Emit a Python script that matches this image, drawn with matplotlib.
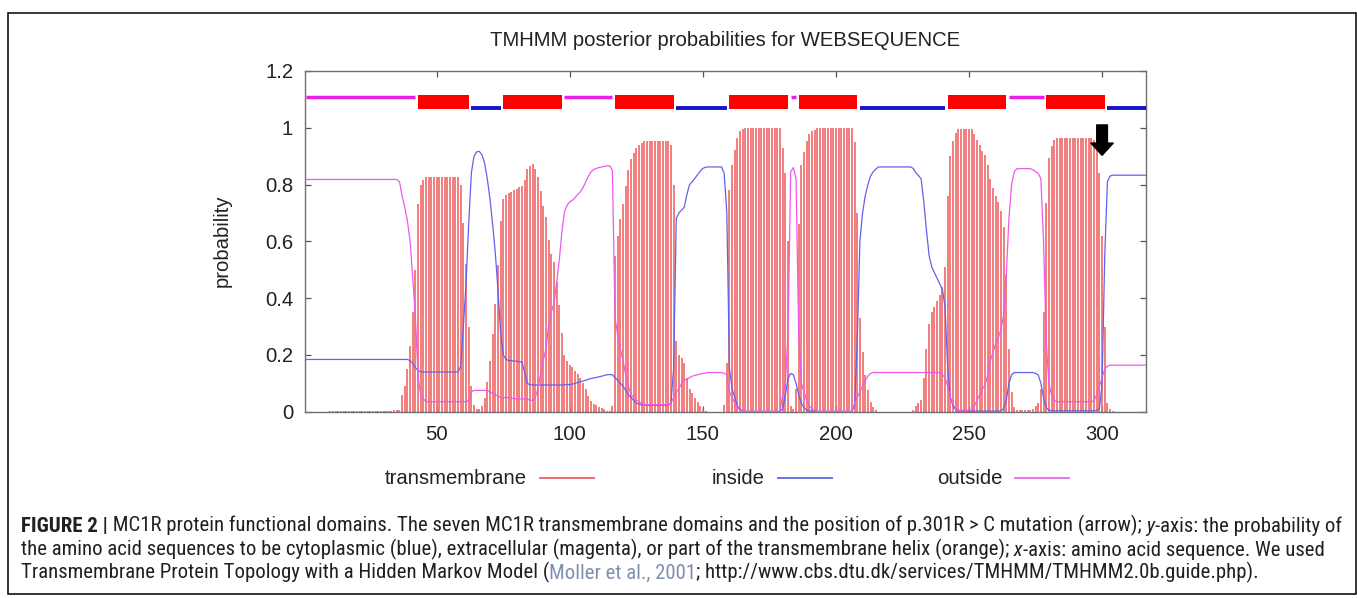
import matplotlib
matplotlib.use('Agg')
import matplotlib.pyplot as plt
from matplotlib import font_manager
from matplotlib.font_manager import FontProperties
from matplotlib.patches import Rectangle, FancyArrowPatch
from matplotlib.lines import Line2D

# ---------------- data ----------------
residues = list(range(1, 318))

tm_prob = [
    0, 0, 0, 0, 0, 0, 0, 0, 0, 0.003,                                   # 1-10
    0.003, 0.003, 0.003, 0.003, 0.003, 0.003, 0.003, 0.003, 0.003, 0.003,  # 11-20
    0.003, 0.003, 0.003, 0.003, 0.003, 0.003, 0.003, 0.001, 0.001, 0.001,  # 21-30
    0.001, 0.001, 0.001, 0.005, 0.005, 0.005, 0.06, 0.09, 0.15, 0.23,      # 31-40
    0.35, 0.5, 0.73, 0.8, 0.815, 0.825, 0.827, 0.827, 0.827, 0.827,        # 41-50
    0.827, 0.827, 0.827, 0.827, 0.827, 0.827, 0.827, 0.827, 0.8, 0.665,    # 51-60
    0.52, 0.3, 0.09, 0.025, 0.01, 0.008, 0.02, 0.05, 0.105, 0.18,          # 61-70
    0.275, 0.38, 0.515, 0.67, 0.75, 0.765, 0.77, 0.775, 0.78, 0.785,       # 71-80
    0.79, 0.795, 0.815, 0.855, 0.865, 0.874, 0.856, 0.826, 0.776, 0.726,   # 81-90
    0.686, 0.606, 0.556, 0.526, 0.456, 0.376, 0.276, 0.2, 0.178, 0.164,    # 91-100
    0.158, 0.145, 0.132, 0.12, 0.102, 0.079, 0.056, 0.038, 0.028, 0.022,   # 101-110
    0.017, 0.013, 0.008, 0.004, 0.003, 0.02, 0.55, 0.62, 0.68, 0.73,       # 111-120
    0.795, 0.85, 0.89, 0.91, 0.93, 0.938, 0.948, 0.952, 0.952, 0.952,      # 121-130
    0.952, 0.952, 0.952, 0.952, 0.952, 0.952, 0.952, 0.94, 0.8, 0.25,      # 131-140
    0.2, 0.19, 0.17, 0.12, 0.08, 0.065, 0.05, 0.035, 0.02, 0.008,          # 141-150
    0.003, 0, 0, 0, 0, 0, 0, 0.025, 0.17, 0.78,                            # 151-160
    0.87, 0.92, 0.965, 0.987, 0.995, 0.998, 0.998, 0.998, 0.998, 0.998,    # 161-170
    0.998, 0.998, 0.998, 0.998, 0.998, 0.998, 0.998, 0.998, 0.998, 0.93,   # 171-180
    0.84, 0.6, 0.02, 0.01, 0.08, 0.66, 0.87, 0.915, 0.955, 0.977,          # 181-190
    0.988, 0.993, 0.998, 0.998, 0.998, 0.998, 0.998, 0.998, 0.998, 0.998,  # 191-200
    0.998, 0.998, 0.998, 0.998, 0.998, 0.998, 0.95, 0.7, 0.33, 0.21,       # 201-210
    0.13, 0.075, 0.035, 0.017, 0.007, 0, 0, 0, 0, 0,                       # 211-220
    0, 0, 0, 0, 0, 0, 0, 0, 0.005, 0.02,                                   # 221-230
    0.03, 0.042, 0.12, 0.22, 0.31, 0.35, 0.37, 0.39, 0.41, 0.44,           # 231-240
    0.51, 0.76, 0.9, 0.955, 0.982, 0.995, 0.995, 0.995, 0.995, 0.995,      # 241-250
    0.995, 0.978, 0.958, 0.938, 0.918, 0.905, 0.87, 0.82, 0.788, 0.758,    # 251-260
    0.738, 0.707, 0.65, 0.48, 0.22, 0.07, 0.017, 0.006, 0.006, 0.006,      # 261-270
    0.006, 0.006, 0.006, 0.01, 0.02, 0.03, 0.08, 0.35, 0.735, 0.895,       # 271-280
    0.937, 0.957, 0.965, 0.965, 0.965, 0.965, 0.965, 0.965, 0.965, 0.965,  # 281-290
    0.965, 0.965, 0.965, 0.965, 0.965, 0.965, 0.957, 0.92, 0.84, 0.62,     # 291-300
    0.3, 0.03, 0.008, 0.002, 0, 0, 0, 0, 0, 0,                             # 301-310
    0, 0, 0, 0, 0, 0, 0,                                                   # 311-317
]

inside_prob = [
    0.184, 0.184, 0.184, 0.184, 0.184, 0.184, 0.184, 0.184, 0.184, 0.184,  # 1-10
    0.184, 0.184, 0.184, 0.184, 0.184, 0.184, 0.184, 0.184, 0.184, 0.184,  # 11-20
    0.184, 0.184, 0.184, 0.184, 0.184, 0.184, 0.184, 0.184, 0.184, 0.184,  # 21-30
    0.184, 0.184, 0.184, 0.184, 0.184, 0.184, 0.184, 0.184, 0.184, 0.18,   # 31-40
    0.17, 0.155, 0.145, 0.14, 0.14, 0.14, 0.14, 0.14, 0.14, 0.14,          # 41-50
    0.14, 0.14, 0.14, 0.14, 0.14, 0.14, 0.14, 0.14, 0.16, 0.3,             # 51-60
    0.45, 0.66, 0.84, 0.9, 0.915, 0.917, 0.905, 0.875, 0.82, 0.75,         # 61-70
    0.66, 0.56, 0.43, 0.28, 0.2, 0.185, 0.18, 0.18, 0.178, 0.178,          # 71-80
    0.176, 0.176, 0.14, 0.1, 0.095, 0.094, 0.094, 0.094, 0.094, 0.094,     # 81-90
    0.094, 0.094, 0.094, 0.094, 0.094, 0.094, 0.094, 0.095, 0.095, 0.096,  # 91-100
    0.097, 0.1, 0.103, 0.105, 0.108, 0.111, 0.114, 0.117, 0.119, 0.121,    # 101-110
    0.123, 0.125, 0.128, 0.13, 0.131, 0.13, 0.12, 0.11, 0.1, 0.09,         # 111-120
    0.075, 0.06, 0.05, 0.04, 0.03, 0.027, 0.024, 0.023, 0.023, 0.023,      # 121-130
    0.023, 0.023, 0.023, 0.023, 0.023, 0.023, 0.023, 0.03, 0.15, 0.68,     # 131-140
    0.7, 0.71, 0.72, 0.765, 0.8, 0.81, 0.822, 0.835, 0.847, 0.857,         # 141-150
    0.861, 0.862, 0.862, 0.862, 0.862, 0.862, 0.862, 0.84, 0.7, 0.15,      # 151-160
    0.08, 0.05, 0.02, 0.008, 0.003, 0.001, 0.001, 0.001, 0.001, 0.001,     # 161-170
    0.001, 0.001, 0.001, 0.001, 0.001, 0.001, 0.001, 0.001, 0.001, 0.01,   # 171-180
    0.06, 0.117, 0.135, 0.13, 0.1, 0.06, 0.03, 0.015, 0.005, 0.003,        # 181-190
    0.002, 0.002, 0.001, 0.001, 0.001, 0.001, 0.001, 0.001, 0.001, 0.001,  # 191-200
    0.001, 0.001, 0.001, 0.001, 0.001, 0.001, 0.02, 0.25, 0.6, 0.7,        # 201-210
    0.76, 0.8, 0.83, 0.845, 0.855, 0.862, 0.862, 0.862, 0.862, 0.862,      # 211-220
    0.862, 0.862, 0.862, 0.862, 0.862, 0.862, 0.862, 0.862, 0.857, 0.842,  # 221-230
    0.832, 0.82, 0.74, 0.64, 0.55, 0.51, 0.49, 0.47, 0.45, 0.43,           # 231-240
    0.37, 0.15, 0.05, 0.02, 0.008, 0.002, 0.002, 0.002, 0.002, 0.002,      # 241-250
    0.002, 0.002, 0.002, 0.002, 0.002, 0.002, 0.002, 0.002, 0.002, 0.002,  # 251-260
    0.002, 0.003, 0.01, 0.04, 0.1, 0.13, 0.138, 0.138, 0.138, 0.138,       # 261-270
    0.138, 0.138, 0.138, 0.138, 0.135, 0.13, 0.1, 0.05, 0.015, 0.005,      # 271-280
    0.003, 0.003, 0.003, 0.003, 0.003, 0.003, 0.003, 0.003, 0.003, 0.003,  # 281-290
    0.003, 0.003, 0.003, 0.003, 0.003, 0.003, 0.003, 0.005, 0.01, 0.1,     # 291-300
    0.55, 0.81, 0.83, 0.833, 0.833, 0.833, 0.833, 0.833, 0.833, 0.833,     # 301-310
    0.833, 0.833, 0.833, 0.833, 0.833, 0.833, 0.833,                       # 311-317
]

outside_prob = [
    0.818, 0.818, 0.818, 0.818, 0.818, 0.818, 0.818, 0.818, 0.818, 0.818,  # 1-10
    0.818, 0.818, 0.818, 0.818, 0.818, 0.818, 0.818, 0.818, 0.818, 0.818,  # 11-20
    0.818, 0.818, 0.818, 0.818, 0.818, 0.818, 0.818, 0.818, 0.818, 0.818,  # 21-30
    0.818, 0.818, 0.818, 0.818, 0.818, 0.81, 0.76, 0.72, 0.67, 0.6,        # 31-40
    0.47, 0.33, 0.12, 0.06, 0.045, 0.035, 0.035, 0.035, 0.035, 0.035,      # 41-50
    0.035, 0.035, 0.035, 0.035, 0.035, 0.035, 0.035, 0.035, 0.035, 0.035,  # 51-60
    0.035, 0.04, 0.07, 0.075, 0.075, 0.075, 0.075, 0.075, 0.075, 0.07,     # 61-70
    0.065, 0.06, 0.055, 0.05, 0.05, 0.05, 0.05, 0.048, 0.046, 0.045,       # 71-80
    0.045, 0.045, 0.045, 0.045, 0.04, 0.04, 0.05, 0.08, 0.13, 0.18,        # 81-90
    0.22, 0.3, 0.35, 0.38, 0.45, 0.53, 0.63, 0.705, 0.727, 0.74,           # 91-100
    0.745, 0.755, 0.765, 0.775, 0.79, 0.81, 0.83, 0.845, 0.853, 0.857,     # 101-110
    0.86, 0.862, 0.864, 0.866, 0.866, 0.85, 0.33, 0.27, 0.22, 0.18,        # 111-120
    0.13, 0.09, 0.06, 0.05, 0.04, 0.035, 0.028, 0.025, 0.025, 0.025,       # 121-130
    0.025, 0.025, 0.025, 0.025, 0.025, 0.025, 0.025, 0.03, 0.05, 0.07,     # 131-140
    0.08, 0.1, 0.11, 0.115, 0.12, 0.125, 0.128, 0.13, 0.133, 0.135,        # 141-150
    0.136, 0.138, 0.138, 0.138, 0.138, 0.138, 0.138, 0.135, 0.13, 0.07,    # 151-160
    0.05, 0.03, 0.015, 0.005, 0.002, 0.001, 0.001, 0.001, 0.001, 0.001,    # 161-170
    0.001, 0.001, 0.001, 0.001, 0.001, 0.001, 0.001, 0.001, 0.001, 0.06,   # 171-180
    0.1, 0.28, 0.845, 0.86, 0.82, 0.28, 0.1, 0.07, 0.04, 0.02,             # 181-190
    0.01, 0.005, 0.001, 0.001, 0.001, 0.001, 0.001, 0.001, 0.001, 0.001,   # 191-200
    0.001, 0.001, 0.001, 0.001, 0.001, 0.001, 0.03, 0.05, 0.07, 0.09,      # 201-210
    0.11, 0.125, 0.135, 0.138, 0.138, 0.138, 0.138, 0.138, 0.138, 0.138,   # 211-220
    0.138, 0.138, 0.138, 0.138, 0.138, 0.138, 0.138, 0.138, 0.138, 0.138,  # 221-230
    0.138, 0.138, 0.138, 0.138, 0.138, 0.138, 0.138, 0.138, 0.138, 0.13,   # 231-240
    0.12, 0.09, 0.05, 0.025, 0.01, 0.005, 0.005, 0.005, 0.005, 0.005,      # 241-250
    0.005, 0.02, 0.04, 0.06, 0.08, 0.093, 0.128, 0.178, 0.21, 0.24,        # 251-260
    0.26, 0.29, 0.34, 0.48, 0.68, 0.8, 0.845, 0.856, 0.856, 0.856,         # 261-270
    0.856, 0.856, 0.856, 0.852, 0.845, 0.84, 0.82, 0.6, 0.25, 0.1,         # 271-280
    0.06, 0.04, 0.035, 0.035, 0.035, 0.035, 0.035, 0.035, 0.035, 0.035,    # 281-290
    0.035, 0.035, 0.035, 0.035, 0.035, 0.035, 0.04, 0.06, 0.09, 0.12,      # 291-300
    0.15, 0.16, 0.164, 0.164, 0.164, 0.164, 0.164, 0.164, 0.164, 0.164,    # 301-310
    0.164, 0.164, 0.164, 0.164, 0.164, 0.164, 0.164,                       # 311-317
]

# predicted topology (segments)
topo_kind = ['outside', 'TMhelix', 'inside', 'TMhelix', 'outside', 'TMhelix', 'inside',
             'TMhelix', 'outside', 'TMhelix', 'inside', 'TMhelix', 'outside', 'TMhelix', 'inside']
topo_start = [1, 43, 63, 75, 98, 117, 140, 160, 183, 186, 209, 242, 265, 279, 302]
topo_end = [42, 62, 74, 97, 116, 139, 159, 182, 185, 208, 241, 264, 278, 301, 317]

x_ticks = [50, 100, 150, 200, 250, 300]
y_ticks = [0, 0.2, 0.4, 0.6, 0.8, 1.0, 1.2]
y_tick_labels = ['0', '0.2', '0.4', '0.6', '0.8', '1', '1.2']
legend_labels = ['transmembrane', 'inside', 'outside']
mutation_pos = 300

title_text = 'TMHMM posterior probabilities for WEBSEQUENCE'
ylabel_text = 'probability'

assert len(tm_prob) == 317 and len(inside_prob) == 317 and len(outside_prob) == 317

# ---------------- fonts ----------------
def have(fam, stretch='normal', need=None):
    try:
        path = font_manager.findfont(FontProperties(family=fam, stretch=stretch),
                                     fallback_to_default=False)
    except Exception:
        return False
    if need is None:
        return True
    return any(n in path.lower() for n in need)

CHART_FONT = 'Liberation Sans' if have('Liberation Sans') else 'DejaVu Sans'

CAP_FONT, CAP_STRETCH = CHART_FONT, 'normal'
for fam, st in [('Liberation Sans Narrow', 'normal'), ('Noto Sans Condensed', 'normal'),
                ('Noto Sans', 'condensed'), ('Roboto Condensed', 'normal'),
                ('DejaVu Sans Condensed', 'normal'), ('DejaVu Sans', 'condensed')]:
    if have(fam, st, need=['narrow', 'condensed']):
        CAP_FONT, CAP_STRETCH = fam, st
        break

plt.rcParams['font.family'] = [CHART_FONT, 'DejaVu Sans']

# ---------------- figure ----------------
W, H = 1357, 598
fig = plt.figure(figsize=(W / 100, H / 100), dpi=100)

def fx(px):
    return px / W

def fy(py):
    return 1 - py / H

C_TM = '#ef6d6d'
C_IN = '#6262ee'
C_OUT = '#ee58ee'
C_TOP_OUT = '#e81ee8'
C_TOP_IN = '#1414c8'
C_TOP_TM = '#ff0000'
FS = 14.6

ax_l, ax_r, ax_t, ax_b = 305, 1146, 71, 411.7
ax = fig.add_axes([fx(ax_l), fy(ax_b), fx(ax_r) - fx(ax_l), fy(ax_t) - fy(ax_b)])

ax.vlines(residues, 0, tm_prob, colors=C_TM, linewidth=1.25, capstyle='butt', zorder=2)
ax.plot(residues, inside_prob, color=C_IN, linewidth=0.9, zorder=3)
ax.plot(residues, outside_prob, color=C_OUT, linewidth=0.9, zorder=3)

for kind, s, e in zip(topo_kind, topo_start, topo_end):
    if kind == 'outside':
        ax.hlines(1.108, s, e, colors=C_TOP_OUT, linewidth=2.5, capstyle='butt', zorder=4)
    elif kind == 'inside':
        ax.hlines(1.069, s, e, colors=C_TOP_IN, linewidth=2.8, capstyle='butt', zorder=4)
    else:
        ax.broken_barh([(s, e - s)], (1.065, 0.049), facecolors=C_TOP_TM, edgecolor='none', zorder=4)

arrow = FancyArrowPatch((mutation_pos, 1.01), (mutation_pos, 0.903),
                        arrowstyle='simple,head_length=0.55,head_width=1.0,tail_width=0.48',
                        mutation_scale=16, color='black', shrinkA=0, shrinkB=0, zorder=6)
ax.add_patch(arrow)

ax.set_xlim(0.5, 316.5)
ax.set_ylim(0, 1.2)
ax.set_xticks(x_ticks)
ax.set_xticklabels([str(t) for t in x_ticks])
ax.set_yticks(y_ticks)
ax.set_yticklabels(y_tick_labels)
ax.tick_params(direction='in', length=4, width=0.9, color='#555555', top=True, right=True,
               labelsize=FS, labelcolor='#222222')
ax.tick_params(axis='y', pad=8.5)
ax.tick_params(axis='x', pad=9.5)
for sp in ax.spines.values():
    sp.set_color('#707070')
    sp.set_linewidth(1.0)

fig.text(fx(725.5), fy(40), title_text, ha='center', va='center', fontsize=FS, color='#222222')
fig.text(fx(222), fy(241), ylabel_text, ha='center', va='center', rotation=90, fontsize=FS,
         color='#222222')

# legend (gnuplot style key under the plot)
leg_y = 478
leg_line_x = [540, 778, 1015]
leg_colors = [C_TM, '#7070ee', '#ee70ee']
for lab, x0, c in zip(legend_labels, leg_line_x, leg_colors):
    fig.text(fx(x0 - 13), fy(leg_y), lab, ha='right', va='center', fontsize=FS, color='#222222')
    fig.add_artist(Line2D([fx(x0), fx(x0 + 54)], [fy(leg_y), fy(leg_y)], color=c, linewidth=1.4))

# border around the whole figure panel
fig.add_artist(Rectangle((fx(8), fy(594)), fx(1356) - fx(8), fy(13) - fy(594), transform=fig.transFigure,
                         fill=False, edgecolor='black', linewidth=1.1))

# ---------------- caption ----------------
cap_ax = fig.add_axes([0, 0, 1, 1], facecolor='none')
cap_ax.set_axis_off()
cap_ax.set_xlim(0, 1)
cap_ax.set_ylim(0, 1)

TXT = '#231f20'
LINK = '#7f8fb0'
caption_lines = [
    [('FIGURE 2 |', 'bold', 'normal', TXT),
     (' MC1R protein functional domains. The seven MC1R transmembrane domains and the position of p.301R > C mutation (arrow);', 'normal', 'normal', TXT),
     (' y', 'normal', 'italic', TXT),
     ('-axis: the probability of', 'normal', 'normal', TXT)],
    [('the amino acid sequences to be cytoplasmic (blue), extracellular (magenta), or part of the transmembrane helix (orange);', 'normal', 'normal', TXT),
     (' x', 'normal', 'italic', TXT),
     ('-axis: amino acid sequence. We used', 'normal', 'normal', TXT)],
    [('Transmembrane Protein Topology with a Hidden Markov Model (', 'normal', 'normal', TXT),
     ('Moller et al., 2001', 'normal', 'normal', LINK),
     ('; http://www.cbs.dtu.dk/services/TMHMM/TMHMM2.0b.guide.php).', 'normal', 'normal', TXT)],
]
cap_baselines = [532, 555, 578]
cap_x0 = 21
cap_fs0 = 12.0
cap_artists = []
line1_last = None
for li, (pieces, yb) in enumerate(zip(caption_lines, cap_baselines)):
    prev = None
    for (t, wt, st, c) in pieces:
        kw = dict(fontsize=cap_fs0, fontweight=wt, fontstyle=st, color=c,
                  family=[CAP_FONT, 'DejaVu Sans'], fontstretch=CAP_STRETCH)
        if prev is None:
            a = cap_ax.text(fx(cap_x0), fy(yb), t, ha='left', va='baseline', **kw)
        else:
            a = cap_ax.annotate(t, xy=(1, 0), xycoords=prev, ha='left', va='bottom', **kw)
        cap_artists.append(a)
        prev = a
    if li == 0:
        line1_last = prev

fig.canvas.draw()
r = fig.canvas.get_renderer()
x_end = line1_last.get_window_extent(r).x1
scale = (1338 - cap_x0) / (x_end - cap_x0)
for a in cap_artists:
    a.set_fontsize(cap_fs0 * scale)

fig.savefig('out.png', dpi=100)
